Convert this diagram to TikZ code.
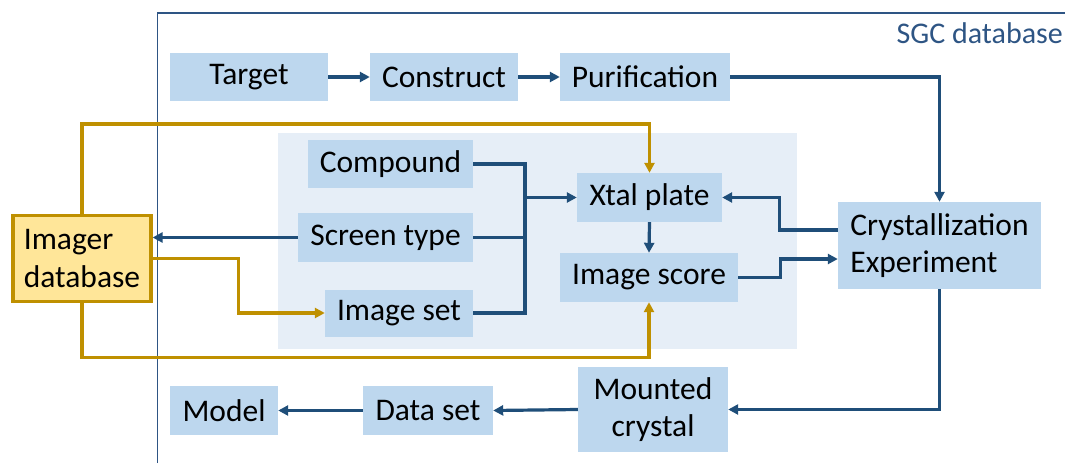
\documentclass[tikz,border=0pt]{standalone}
\usepackage{fontspec}
\setmainfont{Carlito}
\usetikzlibrary{arrows.meta}
\definecolor{boxblue}{HTML}{BDD7EE}
\definecolor{regionblue}{HTML}{E6EEF7}
\definecolor{linkblue}{HTML}{1F4E79}
\definecolor{gold}{HTML}{BF9000}
\definecolor{goldfill}{HTML}{FFE699}
\definecolor{framecol}{HTML}{2E5584}
\tikzset{
  stepbox/.style={fill=boxblue, inner sep=0pt, font=\fontsize{31.5}{37.5}\selectfont},
  blink/.style={draw=linkblue, line width=3.2pt, -{Triangle[length=10pt,width=10pt]}},
  glink/.style={draw=gold, line width=3.2pt, -{Triangle[length=10pt,width=10pt]}},
}
\begin{document}
\begin{tikzpicture}[x=1pt,y=-1pt]
\useasboundingbox (0,0) rectangle (1065,463);
% SGC frame
\draw[framecol, line width=1.3pt] (157.5,463) -- (157.5,13) -- (1065,13);
\node[anchor=base east, text=framecol, inner sep=0pt, font=\fontsize{30}{36}\selectfont] (sgc) at (1063,43) {SGC database};
% light region
\fill[regionblue] (278,133) rectangle (797,349);
% nodes
\node[stepbox, minimum width=158pt, minimum height=48pt] (target) at (249,77) {Target};
\node[stepbox, minimum width=148pt, minimum height=48pt] (construct) at (444,77) {Construct};
\node[stepbox, minimum width=170pt, minimum height=48pt] (purif) at (645,77) {Purification};
\node[stepbox, minimum width=165pt, minimum height=48pt] (compound) at (390.5,164) {Compound};
\node[stepbox, minimum width=175pt, minimum height=49pt] (screen) at (385.5,237.5) {Screen type};
\node[stepbox, minimum width=148pt, minimum height=47pt] (imgset) at (399,313) {Image set};
\node[stepbox, minimum width=145pt, minimum height=49pt] (xtal) at (649.5,197.5) {Xtal plate};
\node[stepbox, minimum width=178pt, minimum height=49pt] (score) at (649,277.5) {Image score};
\node[stepbox, minimum width=203pt, minimum height=87pt, align=left] (cryst) at (939.5,245.5) {Crystallization\\Experiment};
\node[stepbox, minimum width=150pt, minimum height=85pt, align=center] (mounted) at (653,409.5) {Mounted\\crystal};
\node[stepbox, minimum width=130pt, minimum height=49pt] (dataset) at (428,410.5) {Data set};
\node[stepbox, minimum width=108pt, minimum height=49pt] (model) at (224,410.5) {Model};
\node[stepbox, fill=goldfill, draw=gold, line width=3.2pt, minimum width=138pt, minimum height=86pt, align=left] (imager) at (82,258.5) {Imager\\database};
% blue links
\draw[blink] (target) -- (construct);
\draw[blink] (construct) -- (purif);
\draw[blink] (purif.east) -| (cryst.north);
\coordinate (j) at (525,197.5);
\draw[draw=linkblue, line width=3.2pt] (compound.east) -| (j);
\draw[draw=linkblue, line width=3.2pt] (imgset.east) -| (j);
\draw[draw=linkblue, line width=3.2pt] (screen.east) -- (screen.east -| j);
\draw[blink] (j) -- (xtal.west);
\draw[blink] (screen.west) -- (screen.west -| imager.east);
\draw[blink] (xtal.south) -- (score.north);
\draw[blink] ([yshift=15.5pt]cryst.west) -- ++(-58,0) |- (xtal.east);
\draw[blink] (score.east) -- ++(42,0) |- ([yshift=-13.5pt]cryst.west);
\draw[blink] (cryst.south) |- (mounted.east);
\draw[blink] (mounted.west) -- (dataset.east);
\draw[blink] (dataset.west) -- (model.east);
% gold links
\draw[glink] (imager.north) -- ++(0,-90) -| (xtal.north);
\draw[glink] (imager.east) -- ++(86,0) |- (imgset.west);
\draw[glink] (imager.south) -- ++(0,54) -| (score.south);
\end{tikzpicture}
\end{document}
